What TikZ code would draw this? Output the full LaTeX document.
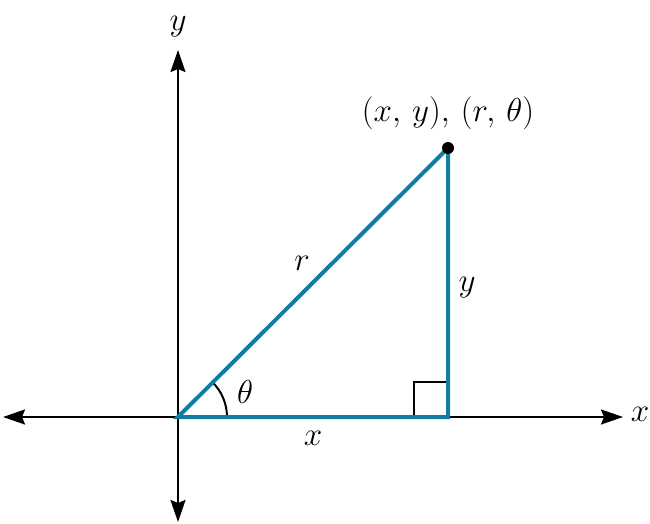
\documentclass[tikz,border=0pt]{standalone}
\usepackage{graphicx}
\usetikzlibrary{arrows.meta}
\definecolor{tri}{HTML}{0F7EA2}
\newcommand{\mylbl}[1]{\scalebox{1.33}{$#1$}}
\begin{document}
\begin{tikzpicture}[x=1pt,y=-1pt,
  axis/.style={line width=2pt,black,{Stealth[length=22pt,width=15pt,inset=3pt]}-{Stealth[length=22pt,width=15pt,inset=3pt]}},
  side/.style={line width=4pt,tri},
  lbl/.style={font=\fontsize{24.88}{30}\selectfont,inner sep=0pt}]
\useasboundingbox (0,0) rectangle (650,524);
\coordinate (W) at (3,417);
\coordinate (E) at (623,417);
\coordinate (N) at (178,50);
\coordinate (S) at (178,522);
\coordinate (O) at (178,417);
\coordinate (P) at (448,148);
\coordinate (F) at (448,417);
\draw[axis] (W) -- (E);
\draw[axis] (N) -- (S);
\draw[line width=2pt] (414,417) |- (448,382);
\draw[line width=2pt] (O) ++(49,0) arc[start angle=0,end angle=-44.9,radius=49];
\draw[side] (O) -- (F) -- (P) -- cycle;
\fill (P) circle[radius=6];
\node[lbl] (lx) at (640,414) {\mylbl{x}};
\node[lbl] (ly) at (178,27) {\mylbl{y}};
\node[lbl] (lr) at (302,263) {\mylbl{r}};
\node[lbl] (lyy) at (467,288) {\mylbl{y}};
\node[lbl] (lxx) at (313,438) {\mylbl{x}};
\node[lbl] (lt) at (245,392) {\mylbl{\theta}};
\node[lbl] (lp) at (448,113) {\mylbl{(x,\,y),\,(r,\,\theta)}};
\end{tikzpicture}
\end{document}
